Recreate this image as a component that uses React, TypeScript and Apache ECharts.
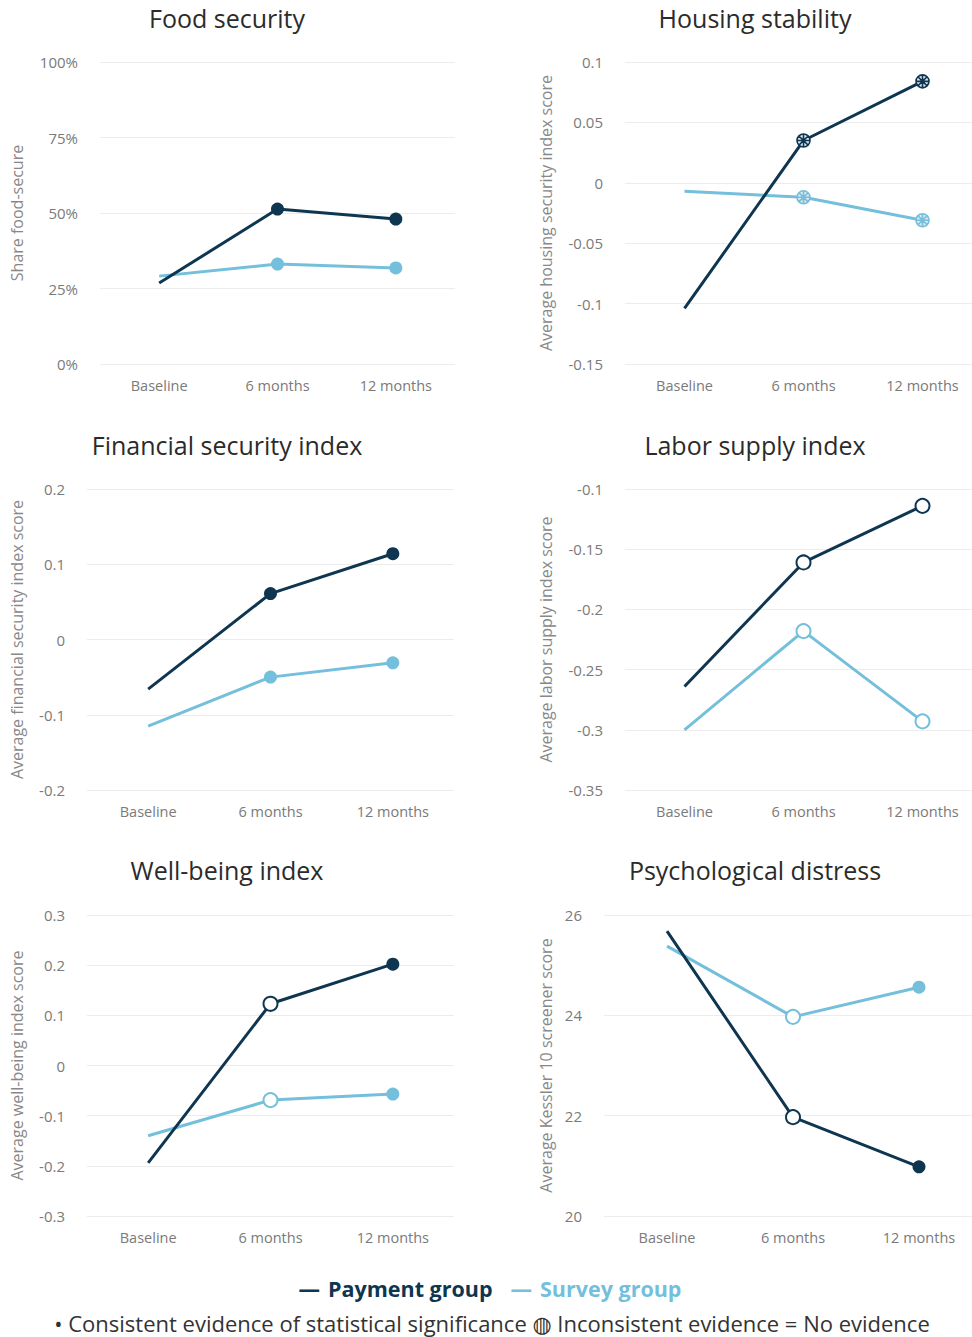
import React, { useEffect, useRef } from "react";
import * as echarts from "echarts";

const categories = ["Baseline", "6 months", "12 months"];

// Food security (share)
const foodPayment = [0.268, 0.513, 0.48];
const foodSurvey = [0.291, 0.331, 0.318];
const foodPayMarks = ["", "S", "S"];
const foodSurMarks = ["", "S", "S"];

// Housing stability
const housingPayment = [-0.104, 0.035, 0.084];
const housingSurvey = [-0.007, -0.012, -0.031];
const housingPayMarks = ["", "I", "I"];
const housingSurMarks = ["", "I", "I"];

// Financial security index
const finPayment = [-0.066, 0.061, 0.114];
const finSurvey = [-0.115, -0.05, -0.031];
const finPayMarks = ["", "S", "S"];
const finSurMarks = ["", "S", "S"];

// Labor supply index
const laborPayment = [-0.264, -0.161, -0.114];
const laborSurvey = [-0.3, -0.218, -0.293];
const laborPayMarks = ["", "N", "N"];
const laborSurMarks = ["", "N", "N"];

// Well-being index
const wellPayment = [-0.194, 0.123, 0.202];
const wellSurvey = [-0.14, -0.069, -0.057];
const wellPayMarks = ["", "N", "S"];
const wellSurMarks = ["", "N", "S"];

// Psychological distress
const psyPayment = [25.68, 21.97, 20.98];
const psySurvey = [25.38, 23.97, 24.56];
const psyPayMarks = ["", "N", "S"];
const psySurMarks = ["", "N", "S"];

const titles = [
  "Food security",
  "Housing stability",
  "Financial security index",
  "Labor supply index",
  "Well-being index",
  "Psychological distress",
];
const yNames = [
  "Share food-secure",
  "Average housing security index score",
  "Average financial security index score",
  "Average labor supply index score",
  "Average well-being index score",
  "Average Kessler 10 screener score",
];
const yMins = [0, -0.15, -0.2, -0.35, -0.3, 20];
const yMaxs = [1, 0.1, 0.2, -0.1, 0.3, 26];
const yIntervals = [0.25, 0.05, 0.1, 0.05, 0.1, 2];

const DARK = "#0f3651";
const LIGHT = "#74bfdc";
const FONT = "'Open Sans', 'DejaVu Sans', sans-serif";

const crossSymbol =
  "path://M10,0 A10,10 0 1,1 -10,0 A10,10 0 1,1 10,0 Z M-7,-7 L7,7 M7,-7 L-7,7 M0,-10 L0,10 M-10,0 L10,0";

function buildData(values: number[], marks: string[], color: string) {
  return values.map((v, i) => {
    const m = marks[i];
    if (m === "S") {
      return { value: v, symbol: "circle", symbolSize: 13, itemStyle: { color, borderWidth: 0 } };
    }
    if (m === "I") {
      return {
        value: v,
        symbol: crossSymbol,
        symbolSize: 13,
        itemStyle: { color: "#dfe7ec", borderColor: color, borderWidth: 1.6 },
      };
    }
    if (m === "N") {
      return {
        value: v,
        symbol: "circle",
        symbolSize: 14,
        itemStyle: { color: "#ffffff", borderColor: color, borderWidth: 2 },
      };
    }
    return { value: v, symbol: "none" };
  });
}

export default function App() {
  const ref = useRef<HTMLDivElement>(null);

  useEffect(() => {
    document.body.style.margin = "0";
    if (!ref.current) return;
    const chart = echarts.init(ref.current, null, { renderer: "svg" });

    const grids = [
      { left: 100, top: 62, width: 355, height: 302 },
      { left: 625, top: 62, width: 357, height: 302 },
      { left: 87, top: 489, width: 367, height: 301 },
      { left: 625, top: 489, width: 357, height: 301 },
      { left: 87, top: 915, width: 367, height: 301 },
      { left: 604, top: 915, width: 378, height: 301 },
    ];
    const nameGaps = [75, 71, 62, 71, 62, 50];
    const titlePos = [
      [227, 18],
      [755, 18],
      [227, 445],
      [755, 445],
      [227, 870],
      [755, 870],
    ];

    const payments = [foodPayment, housingPayment, finPayment, laborPayment, wellPayment, psyPayment];
    const surveys = [foodSurvey, housingSurvey, finSurvey, laborSurvey, wellSurvey, psySurvey];
    const payMarks = [foodPayMarks, housingPayMarks, finPayMarks, laborPayMarks, wellPayMarks, psyPayMarks];
    const surMarks = [foodSurMarks, housingSurMarks, finSurMarks, laborSurMarks, wellSurMarks, psySurMarks];

    const xAxis = grids.map((_, i) => ({
      type: "category",
      gridIndex: i,
      data: categories,
      boundaryGap: true,
      axisLine: { show: false },
      axisTick: { show: false },
      axisLabel: { color: "#7a7a7a", fontSize: 14.5, fontFamily: FONT, margin: 14 },
    }));

    const yAxis = grids.map((_, i) => ({
      type: "value",
      gridIndex: i,
      min: yMins[i],
      max: yMaxs[i],
      interval: yIntervals[i],
      name: yNames[i],
      nameLocation: "middle",
      nameGap: nameGaps[i],
      nameTextStyle: { color: "#888", fontSize: 16, fontFamily: FONT },
      axisLine: { show: false },
      axisTick: { show: false },
      splitLine: { lineStyle: { color: "#ececec", width: 1 } },
      axisLabel: {
        color: "#7a7a7a",
        fontSize: 15,
        fontFamily: FONT,
        margin: 22,
        formatter: (v: number) =>
          i === 0 ? Math.round(v * 100) + "%" : String(parseFloat(v.toFixed(2))),
      },
    }));

    const series: any[] = [];
    grids.forEach((_, i) => {
      series.push({
        type: "line",
        name: "Survey group",
        xAxisIndex: i,
        yAxisIndex: i,
        data: buildData(surveys[i], surMarks[i], LIGHT),
        lineStyle: { color: LIGHT, width: 3 },
        itemStyle: { color: LIGHT },
        z: 2,
      });
      series.push({
        type: "line",
        name: "Payment group",
        xAxisIndex: i,
        yAxisIndex: i,
        data: buildData(payments[i], payMarks[i], DARK),
        lineStyle: { color: DARK, width: 3 },
        itemStyle: { color: DARK },
        z: 3,
      });
    });

    const graphic: any[] = titles.map((t, i) => ({
      type: "text",
      x: titlePos[i][0],
      y: titlePos[i][1],
      style: {
        text: t,
        fill: "#2b2b2b",
        fontSize: 25,
        fontFamily: FONT,
        fontWeight: 400,
        align: "center",
        verticalAlign: "middle",
      },
    }));

    const legendBase = { fontSize: 21.5, fontWeight: "bold", fontFamily: FONT };
    graphic.push({
      type: "text",
      x: 490,
      y: 1288,
      style: {
        text: "{pl|—}{g1|}{p|Payment group}{g2|}{sl|—}{g1|}{s|Survey group}",
        align: "center",
        verticalAlign: "middle",
        rich: {
          pl: { ...legendBase, fill: DARK },
          p: { ...legendBase, fill: DARK },
          sl: { ...legendBase, fill: LIGHT },
          s: { ...legendBase, fill: LIGHT },
          g1: { width: 8 },
          g2: { width: 18 },
        },
      },
    });

    graphic.push({
      type: "text",
      x: 492,
      y: 1323,
      style: {
        text: "• Consistent evidence of statistical significance ◍ Inconsistent evidence = No evidence",
        fill: "#333",
        fontSize: 22,
        fontFamily: FONT,
        align: "center",
        verticalAlign: "middle",
      },
    });

    chart.setOption({
      animation: false,
      backgroundColor: "#ffffff",
      grid: grids,
      xAxis,
      yAxis,
      series,
      graphic,
    });

    return () => chart.dispose();
  }, []);

  return (
    <div style={{ width: 972, height: 1337, overflow: "hidden" }}>
      <div ref={ref} style={{ width: 1000, height: 1337 }} />
    </div>
  );
}
